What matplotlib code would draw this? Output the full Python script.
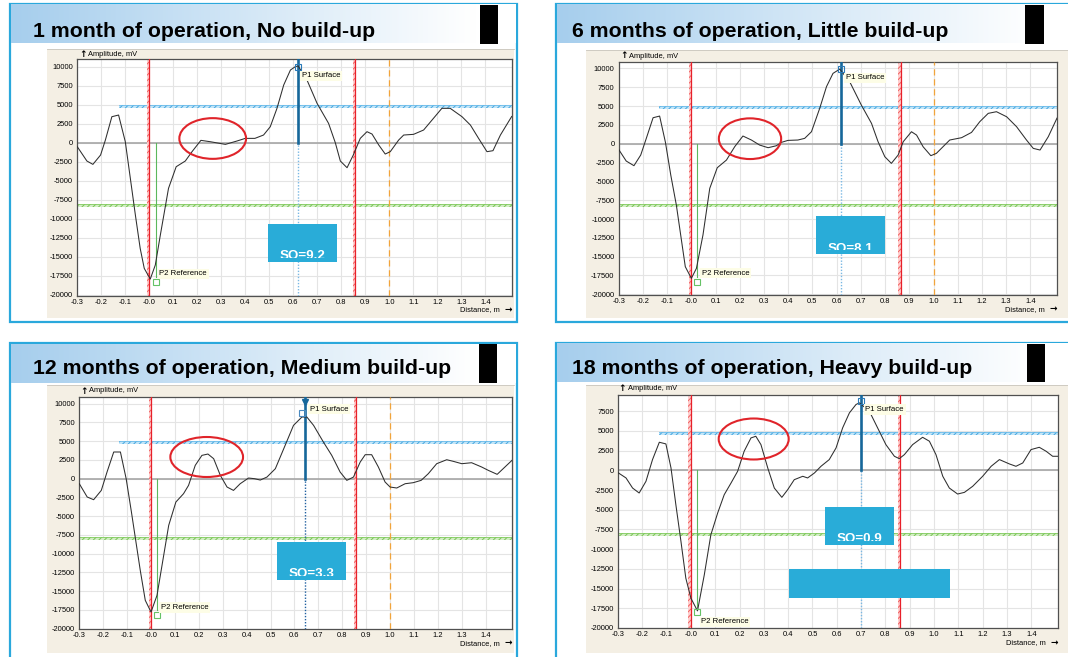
import numpy as np
import matplotlib.pyplot as plt
from matplotlib.patches import Rectangle, Ellipse

W, H = 1068, 657
plt.rcParams['font.family'] = ['Liberation Sans', 'DejaVu Sans']
plt.rcParams['hatch.linewidth'] = 0.7

### DATA

titles = ["1 month of operation, No build-up",
          "6 months of operation, Little build-up",
          "12 months of operation, Medium build-up",
          "18 months of operation, Heavy build-up"]
so_labels = ["SO=9.2", "SO=8.1", "SO=3.3", "SO=0.9"]

x_1m = [-0.30, -0.26, -0.235, -0.203, -0.183, -0.156, -0.128, -0.10, -0.079, -0.058, -0.038, -0.021,
        0.004, 0.025, 0.046, 0.08, 0.112, 0.15, 0.178, 0.215, 0.254, 0.317, 0.365, 0.40, 0.44, 0.476,
        0.504, 0.532, 0.56, 0.588, 0.608, 0.62, 0.64, 0.657, 0.699, 0.747, 0.775, 0.796, 0.824, 0.85,
        0.879, 0.907, 0.928, 0.956, 0.983, 1.004, 1.039, 1.06, 1.101, 1.143, 1.178, 1.219, 1.254,
        1.303, 1.338, 1.372, 1.407, 1.432, 1.463, 1.51]
amp_1m = [-530, -2410, -2850, -1620, 350, 3420, 3640, 130, -4690, -9520, -13900, -16540,
          -17940, -16100, -12150, -6010, -3160, -2410, -1180, 310, 130, -220, 220, 570, 570, 1010,
          2100, 4520, 7590, 9560, 10000, 10100, 9100, 8250, 5180, 2540, 0, -2410, -3290, -1620,
          570, 1450, 1140, -300, -1490, -1180, 350, 1010, 1100, 1670, 2980, 4520, 4520,
          3420, 2320, 570, -1180, -1050, 1010, 3450]

x_6m = [-0.303, -0.269, -0.237, -0.209, -0.186, -0.158, -0.131, -0.107, -0.085, -0.062, -0.041, -0.025,
        0.0, 0.021, 0.048, 0.076, 0.107, 0.145, 0.179, 0.213, 0.248, 0.282, 0.317, 0.351, 0.372, 0.399,
        0.44, 0.468, 0.496, 0.53, 0.558, 0.585, 0.613, 0.654, 0.702, 0.744, 0.771, 0.799, 0.826, 0.854,
        0.875, 0.909, 0.93, 0.957, 0.989, 1.012, 1.067, 1.116, 1.157, 1.191, 1.226, 1.26, 1.302, 1.343,
        1.384, 1.412, 1.44, 1.474, 1.51]
amp_6m = [-620, -2300, -2920, -1500, 710, 3450, 3670, 180, -4160, -8140, -12790, -16330,
          -17880, -16550, -12120, -5930, -3190, -2170, -400, 1020, 490, -180, -530, -270, 180, 440,
          490, 710, 1590, 4690, 7570, 9340, 9910, 8230, 5130, 2700, 270, -1730, -2610, -1500,
          270, 1590, 1150, -400, -1590, -1280, 490, 800, 1500, 2920, 4030, 4250, 3580, 2260,
          490, -620, -840, 930, 3400]

x_12m = [-0.30, -0.267, -0.24, -0.208, -0.184, -0.156, -0.128, -0.104, -0.082, -0.063, -0.045, -0.024,
         0.0, 0.025, 0.046, 0.074, 0.104, 0.136, 0.157, 0.185, 0.213, 0.238, 0.262, 0.29, 0.318, 0.345,
         0.373, 0.408, 0.433, 0.457, 0.485, 0.52, 0.561, 0.596, 0.631, 0.652, 0.68, 0.721, 0.756, 0.791,
         0.819, 0.847, 0.875, 0.896, 0.923, 0.951, 0.979, 1.0, 1.028, 1.063, 1.097, 1.13, 1.16, 1.195,
         1.237, 1.265, 1.30, 1.341, 1.383, 1.411, 1.448, 1.51]
amp_12m = [-670, -2440, -2800, -1560, 890, 3560, 3560, 0, -4440, -8440, -12220, -16220,
           -17780, -15560, -11560, -6220, -3110, -2000, -890, 1780, 3110, 3290, 2670, 440, -1110, -1560,
           -670, 90, 0, -180, 220, 1330, 4440, 7110, 8220, 8220, 7110, 4890, 3110, 890,
           -220, 220, 2220, 3200, 3200, 1560, -440, -1110, -1240, -670, -530, -220, 670, 2000,
           2530, 2310, 2000, 2130, 1560, 1110, 580, 2450]

x_18m = [-0.298, -0.267, -0.24, -0.213, -0.185, -0.158, -0.13, -0.103, -0.082, -0.062, -0.041, -0.021,
         0.0, 0.027, 0.055, 0.082, 0.11, 0.137, 0.165, 0.192, 0.219, 0.247, 0.267, 0.288, 0.316, 0.343,
         0.374, 0.398, 0.425, 0.46, 0.48, 0.508, 0.535, 0.569, 0.597, 0.624, 0.652, 0.679, 0.693, 0.734,
         0.768, 0.802, 0.837, 0.857, 0.878, 0.912, 0.953, 0.981, 1.008, 1.036, 1.063, 1.097, 1.125,
         1.159, 1.20, 1.235, 1.269, 1.31, 1.337, 1.365, 1.399, 1.433, 1.461, 1.488, 1.51]
amp_18m = [-340, -970, -2250, -2880, -1400, 1360, 3560, 3350, 300, -4360, -9030, -13690,
           -16230, -17840, -13260, -8180, -5420, -3090, -1610, -130, 2420, 4110, 4320, 3260, 300, -2250,
           -3430, -2460, -1190, -760, -970, -340, 510, 1360, 2840, 5380, 7290, 8350, 8560, 7500,
           5380, 3260, 1780, 1480, 1990, 3260, 4190, 3690, 1990, -760, -2250, -3010, -2800,
           -2030, -760, 510, 1360, 810, 510, 930, 2630, 2920, 2420, 1780, 1780]

curves_x = [x_1m, x_6m, x_12m, x_18m]
curves_y = [amp_1m, amp_6m, amp_12m, amp_18m]

p1_x = [0.618, 0.62, 0.645, 0.70]          # surface marker
p1_y = [10000, 9870, 8700, 8770]
p2_x = [0.028, 0.025, 0.024, 0.025]        # reference marker
p2_y = [-18330, -18350, -18130, -17920]
red_x = [0.0, 0.0, 0.0, 0.0]
red_x2 = [0.858, 0.865, 0.857, 0.86]
blue_lvl = [4740, 4780, 4760, 4660]
blue_start = [-0.128, -0.134, -0.135, -0.13]
green_lvl = [-8200, -8190, -8000, -8100]
has_orange = [True, True, True, False]

x_ticks = [-0.3, -0.2, -0.1, 0.0, 0.1, 0.2, 0.3, 0.4, 0.5, 0.6, 0.7, 0.8, 0.9, 1.0, 1.1, 1.2, 1.3, 1.4]
x_tick_labels = ['-0.3', '-0.2', '-0.1', '-0.0', '0.1', '0.2', '0.3', '0.4', '0.5', '0.6', '0.7',
                 '0.8', '0.9', '1.0', '1.1', '1.2', '1.3', '1.4']
y_ticks = [10000, 7500, 5000, 2500, 0, -2500, -5000, -7500, -10000, -12500, -15000, -17500, -20000]

### LAYOUT (pixels)

panels = [
    dict(border=(10, 4, 517, 322), band=(11, 5, 516, 43.5), black=(480, 5, 498, 43.5),
         title=(32.8, 37.3), beige=(47, 48.5, 514, 318), ax=(77.3, 59, 511.7, 295.7),
         ylim=(-20130, 11013), amp=(79, 54.5), dist=310, so=(268, 224, 336.7, 261.7),
         ell=(212.7, 138.5, 66.7, 40.7), extra=None),
    dict(border=(556, 4, 1080, 322), band=(557, 5, 1080, 43.5), black=(1025, 5, 1044, 43.5),
         title=(572, 37.3), beige=(586, 50, 1068, 318), ax=(618.7, 61.7, 1057, 295),
         ylim=(-20090, 10890), amp=(620, 56), dist=309.3, so=(816, 216, 884.7, 254),
         ell=(750, 138.7, 62.3, 40.7), extra=None),
    dict(border=(10, 343.3, 517, 670), band=(11, 344.3, 516, 383.3), black=(479, 344, 497, 383.3),
         title=(32.8, 374), beige=(47, 384.5, 514, 653.3), ax=(79.3, 397, 512, 629.3),
         ylim=(-20080, 10893), amp=(80, 391), dist=643.3, so=(277, 542, 346, 579.7),
         ell=(206.7, 457, 72.7, 40), extra=None),
    dict(border=(556, 342.7, 1080, 670), band=(557, 343.7, 1080, 382.3), black=(1027, 343.7, 1045, 382.3),
         title=(572, 374), beige=(586, 384.5, 1068, 653.3), ax=(618, 394.7, 1058, 628),
         ylim=(-20010, 9594), amp=(618.5, 388.7), dist=642.7, so=(824.7, 507, 894, 544.7),
         ell=(753.7, 439, 70, 41), extra=(788.7, 569, 950, 598)),
]

BLUE = '#2aa8dc'
BOX = '#29acd8'


def pix_rect(x0, y0, x1, y1):
    return [x0 / W, 1 - y1 / H, (x1 - x0) / W, (y1 - y0) / H]


fig = plt.figure(figsize=(W / 100, H / 100), dpi=100, facecolor='white')

bg = fig.add_axes([0, 0, 1, 1], zorder=0)
bg.axis('off')

grad = np.ones((1, 256, 3))
c0 = np.array([166, 206, 237]) / 255.0
t = np.clip(np.linspace(0, 1, 256) / 0.92, 0, 1)[:, None]
grad[0] = c0 * (1 - t) + 1.0 * t

for p in panels:
    x0, y0, x1, y1 = p['border']
    bg.add_patch(Rectangle((x0, y0), x1 - x0, y1 - y0, facecolor='white', edgecolor=BLUE, lw=1.6, zorder=1))
    bx0, by0, bx1, by1 = p['band']
    bg.imshow(grad, extent=(bx0, bx1, by1, by0), aspect='auto', zorder=2, interpolation='bilinear')
    kx0, ky0, kx1, ky1 = p['black']
    bg.add_patch(Rectangle((kx0, ky0), kx1 - kx0, ky1 - ky0, facecolor='black', lw=0, zorder=3))
    ex0, ey0, ex1, ey1 = p['beige']
    bg.add_patch(Rectangle((ex0, ey0), ex1 - ex0, ey1 - ey0, facecolor='#f4efe4', edgecolor='none', zorder=2))
    bg.plot([ex0, ex1], [ey0, ey0], color='#c8c4bc', lw=0.6, zorder=3)

arrow_font = ['DejaVu Sans']
for i, p in enumerate(panels):
    bg.text(p['title'][0], p['title'][1], titles[i], fontsize=15.3, fontweight='bold',
            ha='left', va='baseline', color='black', zorder=5)
    ax0, ay0, ax1, ay1 = p['ax']
    bg.text(p['amp'][0], p['amp'][1], '\u2191', fontsize=6.5, fontweight='bold', family=arrow_font,
            ha='left', va='center', zorder=5)
    bg.text(p['amp'][0] + 9, p['amp'][1], 'Amplitude, mV', fontsize=5.4, ha='left', va='center', zorder=5)
    bg.text(ax1 - 12, p['dist'], 'Distance, m', fontsize=5.4, ha='right', va='center', zorder=5)
    bg.text(ax1, p['dist'], '\u2192', fontsize=6.5, fontweight='bold', family=arrow_font,
            ha='right', va='center', zorder=5)

bg.set_xlim(0, W)
bg.set_ylim(H, 0)

for i, p in enumerate(panels):
    ax = fig.add_axes(pix_rect(*p['ax']), zorder=1)
    ax.set_facecolor('white')
    ylo, yhi = p['ylim']
    xs, ys = curves_x[i], curves_y[i]

    ax.set_xticks(x_ticks)
    ax.set_xticklabels(x_tick_labels)
    ax.set_yticks(y_ticks)
    ax.set_yticklabels([str(v) for v in y_ticks])
    ax.tick_params(length=0, labelsize=5.4, pad=2.2)
    ax.tick_params(axis='y', pad=3)
    ax.grid(True, color='#e4e4e4', lw=0.8)
    ax.set_axisbelow(True)
    for s in ax.spines.values():
        s.set_color('#505050')
        s.set_linewidth(0.9)

    # level lines
    ax.axhline(0, color='#a6a6a6', lw=1.2, zorder=1)
    x_from = (blue_start[i] + 0.3) / 1.81
    ax.axhspan(blue_lvl[i] - 200, blue_lvl[i] + 200, xmin=x_from, xmax=1, facecolor='#c4e6f8',
               edgecolor='#44a6e0', hatch='//////', lw=0, zorder=2)
    ax.axhline(blue_lvl[i] + 200, xmin=x_from, color='#6cbcea', lw=0.6, zorder=2)
    ax.axhspan(green_lvl[i] - 200, green_lvl[i] + 200, facecolor='#d4eec6',
               edgecolor='#78c455', hatch='//////', lw=0, zorder=2)
    ax.axhline(green_lvl[i] + 200, color='#84cc62', lw=0.6, zorder=2)

    # red markers
    for rx in (red_x[i], red_x2[i]):
        ax.axvspan(rx - 0.01, rx, facecolor='#ffd0d0', edgecolor='#f06060', hatch='//////', lw=0, zorder=2)
        ax.axvline(rx, color='#e8202a', lw=0.9, zorder=3)
    if has_orange[i]:
        ax.axvline(1.0, color='#f2a43a', lw=0.9, ls=(0, (5, 3)), zorder=3)

    # P2 reference
    ax.plot([p2_x[i], p2_x[i]], [0, p2_y[i] + 600], color='#5cb85c', lw=0.8, zorder=3)
    ax.plot(p2_x[i], p2_y[i], marker='s', ms=4.5, mfc='none', mec='#66c266', mew=0.8, zorder=5)

    # P1 surface
    surf_col = '#16679a'
    ax.plot([p1_x[i], p1_x[i]], [ylo, 0], color='#2060a0' if i == 2 else '#7ab8e4',
            lw=1.0, ls=(0, (1, 1.2)), zorder=3)
    ax.plot([p1_x[i], p1_x[i]], [0, yhi], color=surf_col, lw=1.9, zorder=4)
    if i == 2:
        ax.plot(p1_x[i], yhi - 600, marker='v', ms=4.5, color=surf_col, zorder=5)
        ax.plot(p1_x[i] - 0.012, p1_y[i], marker='s', ms=4, mfc='none', mec='#4a8ac0', mew=0.8, zorder=5)
    else:
        ax.plot(p1_x[i], p1_y[i], marker='s', ms=4, mfc='none', mec='#2a7ab8', mew=0.8, zorder=5)

    ax.plot(xs, ys, color='#2e2e2e', lw=0.75, zorder=4)

    lab = dict(fontsize=5.6, ha='left', va='center', zorder=6,
               bbox=dict(facecolor='#fdfde6', edgecolor='none', pad=1.2))
    p1_lab_y = [8800, 8760, 9290, 7710][i]
    ax.text(p1_x[i] + 0.018, p1_lab_y, 'P1 Surface', **lab)
    p2_lab_y = [-17240, -17210, -17160, -19240][i]
    ax.text(0.042, p2_lab_y, 'P2 Reference', **lab)

    ax.set_xlim(-0.3, 1.51)
    ax.set_ylim(ylo, yhi)

# overlay shapes on top of the charts
ov = fig.add_axes([0, 0, 1, 1], zorder=5)
ov.axis('off')
for i, p in enumerate(panels):
    sx0, sy0, sx1, sy1 = p['so']
    ov.add_patch(Rectangle((sx0, sy0), sx1 - sx0, sy1 - sy0, facecolor=BOX, edgecolor='none'))
    clip = Rectangle((sx0, sy0), sx1 - sx0, sy1 - sy0 - 4, transform=ov.transData)
    txt = ov.text(sx0 + 12, sy1 - 2.5, so_labels[i], color='white', fontsize=9.6, fontweight='bold',
                  ha='left', va='baseline', clip_on=True)
    txt.set_clip_path(clip)
    if p['extra'] is not None:
        qx0, qy0, qx1, qy1 = p['extra']
        ov.add_patch(Rectangle((qx0, qy0), qx1 - qx0, qy1 - qy0, facecolor=BOX, edgecolor='none'))
    cx, cy, ew, eh = p['ell']
    ov.add_patch(Ellipse((cx, cy), ew, eh, facecolor='none', edgecolor='#e0242a', lw=1.5))
ov.set_xlim(0, W)
ov.set_ylim(H, 0)

fig.savefig('out.png', dpi=100)
